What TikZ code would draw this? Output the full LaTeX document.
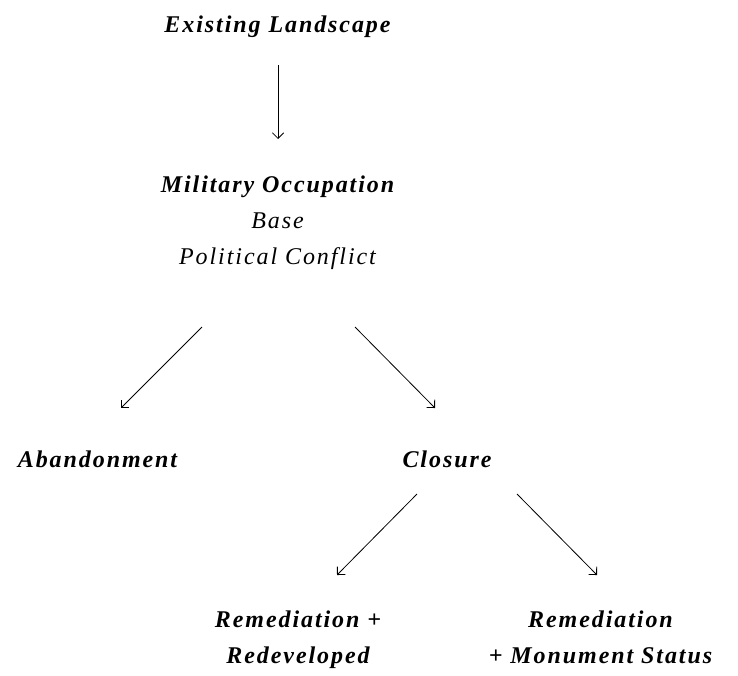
\documentclass[tikz,border=0pt]{standalone}
\usepackage{fontspec}
\setmainfont{Liberation Serif}[LetterSpace=8]
\usetikzlibrary{arrows.meta}

\begin{document}
\begin{tikzpicture}[
  x=1pt, y=-1pt,
  >={Straight Barb[angle=90:8pt]},
  stage/.style={
    anchor=base,
    align=center,
    inner sep=0pt,
    font=\fontsize{24}{36}\selectfont\bfseries\itshape
  },
  flow/.style={->,line width=0.8pt}
]
\useasboundingbox (0,0) rectangle (738,675);
% base of a multi-line node = its last line
\node[stage] (land) at (277.5,32) {Existing Landscape};
\node[stage] (occ) at (277.5,264) {Military Occupation\\{\mdseries Base}\\{\mdseries Political Conflict}};
\node[stage] (aband) at (97.5,467) {Abandonment};
\node[stage] (clos) at (447,467) {Closure};
\node[stage] (redev) at (298,663) {Remediation +\\Redeveloped};
\node[stage] (monu) at (600.5,663) {Remediation\\+ Monument Status};
% arrow end points
\coordinate (land-s) at (278,65);
\coordinate (occ-n) at (278,139);
\coordinate (occ-sw) at (202,327);
\coordinate (aband-n) at (121,408);
\coordinate (occ-se) at (355,327);
\coordinate (clos-n) at (435,408);
\coordinate (clos-sw) at (417,494);
\coordinate (redev-n) at (337,575);
\coordinate (clos-se) at (517,494);
\coordinate (monu-n) at (597,575);
\draw[flow] (land-s) -- (occ-n);
\draw[flow] (occ-sw) -- (aband-n);
\draw[flow] (occ-se) -- (clos-n);
\draw[flow] (clos-sw) -- (redev-n);
\draw[flow] (clos-se) -- (monu-n);
\end{tikzpicture}
\end{document}
